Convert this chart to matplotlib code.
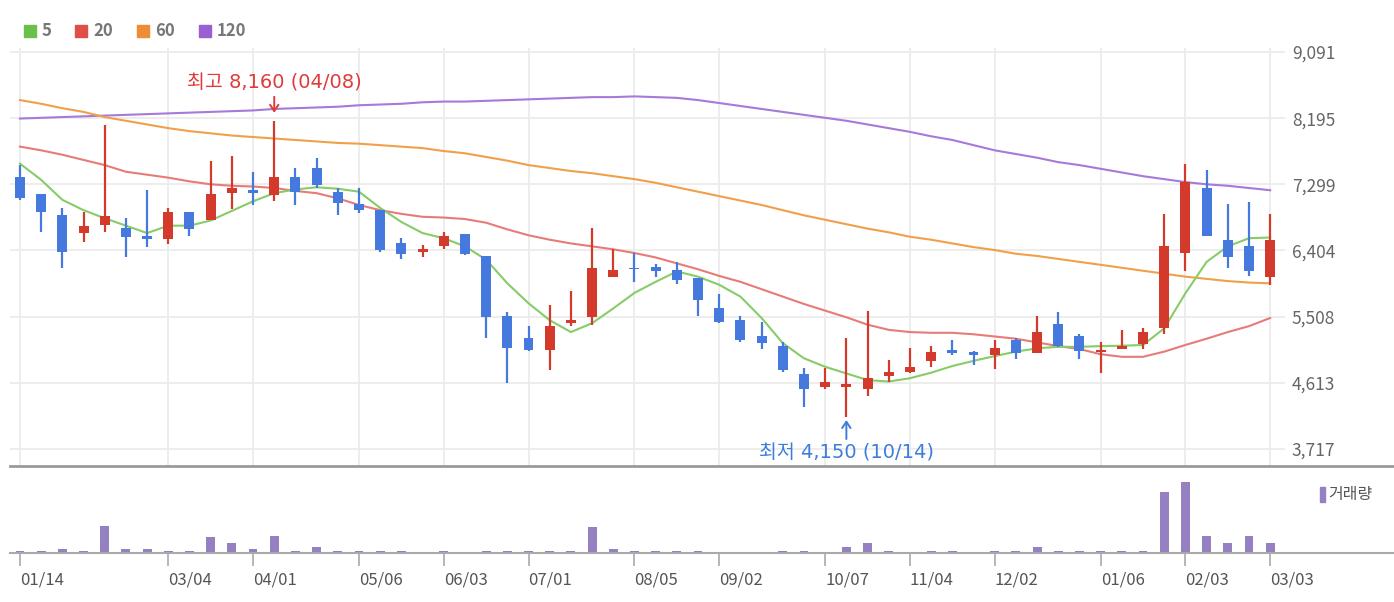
import matplotlib
matplotlib.use('Agg')
import matplotlib.pyplot as plt
from matplotlib.lines import Line2D
from matplotlib.transforms import offset_copy
import numpy as np

plt.rcParams['font.family'] = ['Noto Sans CJK KR', 'DejaVu Sans']

# weekly candles (60 weeks)
opens = [7400, 7170, 6890, 6640, 6750, 6710, 6600, 6560, 6930, 6820,
         7180, 7220, 7160, 7400, 7520, 7190, 7040, 6950, 6510, 6390,
         6470, 6630, 6330, 5520, 5220, 5060, 5420, 5500, 6040, 6170,
         6180, 6140, 6030, 5620, 5460, 5250, 5110, 4730, 4550, 4560,
         4525, 4705, 4765, 4910, 5060, 5030, 4990, 5190, 5015, 5410,
         5240, 5035, 5070, 5140, 5360, 6370, 7250, 6550, 6470, 6040]
highs = [7560, 7170, 6980, 6920, 8100, 6840, 7220, 6980, 6930, 7610,
         7680, 7470, 8160, 7520, 7650, 7250, 7250, 6950, 6570, 6480,
         6660, 6630, 6330, 5570, 5380, 5660, 5850, 6710, 6430, 6370,
         6220, 6250, 6030, 5810, 5520, 5430, 5160, 4820, 4820, 5220,
         5580, 4920, 5080, 5110, 5190, 5050, 5190, 5215, 5520, 5570,
         5270, 5160, 5330, 5350, 6900, 7580, 7490, 7030, 7060, 6900]
lows = [7090, 6660, 6170, 6520, 6660, 6310, 6450, 6490, 6600, 6820,
        6960, 7020, 7070, 7020, 7250, 6880, 6910, 6390, 6290, 6310,
        6420, 6340, 5220, 4610, 5040, 4790, 5380, 5390, 6040, 5980,
        6040, 5950, 5520, 5420, 5170, 5070, 4760, 4280, 4525, 4150,
        4440, 4630, 4740, 4830, 4990, 4855, 4795, 4930, 5015, 5100,
        4930, 4740, 5070, 5070, 5280, 6120, 6600, 6170, 6060, 5940]
closes = [7110, 6930, 6390, 6740, 6870, 6580, 6560, 6930, 6700, 7170,
          7250, 7180, 7400, 7190, 7290, 7050, 6950, 6410, 6360, 6420,
          6600, 6360, 5500, 5090, 5060, 5380, 5460, 6170, 6140, 6150,
          6120, 6000, 5740, 5440, 5190, 5150, 4790, 4525, 4620, 4595,
          4675, 4760, 4825, 5030, 5015, 4990, 5080, 5015, 5300, 5110,
          5040, 5060, 5110, 5300, 6470, 7330, 6600, 6310, 6120, 6550]
volumes = [20, 20, 35, 20, 250, 35, 35, 20, 20, 145,
           90, 35, 160, 20, 55, 20, 20, 20, 20, 1,
           20, 1, 20, 20, 20, 20, 20, 235, 35, 20,
           20, 20, 20, 1, 1, 1, 20, 20, 1, 55,
           90, 20, 1, 20, 20, 1, 20, 20, 55, 20,
           20, 20, 20, 20, 560, 650, 160, 90, 160, 90]

ma5 = [7580, 7360, 7090, 6950, 6840, 6740, 6640, 6740, 6740, 6810,
       6940, 7070, 7180, 7230, 7260, 7240, 7200, 6980, 6790, 6640,
       6570, 6460, 6280, 5960, 5690, 5460, 5300, 5420, 5620, 5830,
       5980, 6120, 6050, 5940, 5780, 5490, 5150, 4945, 4830, 4740,
       4650, 4630, 4675, 4750, 4840, 4910, 4975, 5035, 5080, 5100,
       5100, 5110, 5115, 5125, 5350, 5825, 6250, 6460, 6570, 6580]
ma20 = [7810, 7760, 7700, 7630, 7560, 7470, 7430, 7390, 7340, 7300,
        7280, 7270, 7250, 7210, 7180, 7110, 7020, 6950, 6900, 6860,
        6850, 6830, 6780, 6690, 6610, 6550, 6500, 6460, 6420, 6370,
        6310, 6230, 6150, 6060, 5980, 5880, 5780, 5680, 5590, 5500,
        5400, 5330, 5300, 5290, 5290, 5270, 5240, 5210, 5160, 5110,
        5070, 5000, 4965, 4965, 5035, 5125, 5210, 5300, 5380, 5490]
ma60 = [8440, 8390, 8330, 8280, 8210, 8160, 8110, 8060, 8020, 7990,
        7960, 7940, 7920, 7900, 7880, 7860, 7850, 7830, 7810, 7790,
        7750, 7720, 7670, 7620, 7560, 7520, 7480, 7450, 7410, 7370,
        7320, 7260, 7200, 7140, 7080, 7020, 6950, 6880, 6820, 6760,
        6700, 6650, 6590, 6550, 6500, 6450, 6410, 6360, 6330, 6290,
        6250, 6210, 6170, 6130, 6090, 6050, 6020, 5990, 5970, 5960]
ma120 = [8190, 8200, 8210, 8220, 8230, 8240, 8250, 8260, 8270, 8280,
         8290, 8300, 8320, 8330, 8340, 8350, 8370, 8380, 8390, 8410,
         8420, 8420, 8430, 8440, 8450, 8460, 8470, 8480, 8480, 8490,
         8480, 8470, 8440, 8400, 8360, 8320, 8280, 8240, 8200, 8160,
         8110, 8060, 8010, 7950, 7900, 7830, 7760, 7710, 7660, 7600,
         7560, 7510, 7460, 7410, 7370, 7330, 7300, 7280, 7250, 7220]

tick_idx = [0, 7, 11, 16, 20, 24, 29, 33, 38, 42, 46, 51, 55, 59]
tick_labels = ['01/14', '03/04', '04/01', '05/06', '06/03', '07/01', '08/05',
               '09/02', '10/07', '11/04', '12/02', '01/06', '02/03', '03/03']
price_ticks = [3717, 4613, 5508, 6404, 7299, 8195, 9091]
hi_date = '04/08'
lo_date = '10/14'

RED = '#d33a2c'
BLUE = '#4679dd'
W, H = 1394, 602

fig = plt.figure(figsize=(W / 100, H / 100), dpi=100)
ax = fig.add_axes([10 / W, (H - 466) / H, 1275 / W, 418 / H])
axv = fig.add_axes([10 / W, (H - 553) / H, 1275 / W, 83 / H])

x = np.arange(len(closes))
o = np.array(opens)
c = np.array(closes)
up = c >= o
cols = np.where(up, RED, BLUE)

# grid
for t in tick_idx:
    ax.axvline(t, color='#ececec', lw=1.3, zorder=0)
for p in price_ticks:
    ax.axhline(p, color='#ececec', lw=1.3, zorder=0)

# moving averages
ax.plot(x, ma120, color='#a57ad8', lw=1.5, zorder=2)
ax.plot(x, ma60, color='#f0a04b', lw=1.5, zorder=2)
ax.plot(x, ma20, color='#e77b78', lw=1.5, zorder=2)
ax.plot(x, ma5, color='#86cc68', lw=1.5, zorder=2)

# candles
ax.vlines(x, lows, highs, colors=cols, lw=1.6, zorder=3)
body = np.maximum(np.abs(c - o), 20)
ax.bar(x, body, bottom=np.minimum(o, c), width=0.47, color=cols, zorder=4)

ax.set_xlim(-0.47, 59.7)
ax.set_ylim(3487, 9145)
for s in ax.spines.values():
    s.set_visible(False)
ax.set_xticks([])
ax.yaxis.tick_right()
ax.set_yticks(price_ticks)
ax.set_yticklabels([f'{p:,}' for p in price_ticks])
ax.tick_params(axis='y', length=0, pad=5, labelsize=12.5, labelcolor='#666')

# high / low marks
i_hi = int(np.argmax(highs))
i_lo = int(np.argmin(lows))
hi, lo = highs[i_hi], lows[i_lo]


def shifted(dy):
    return offset_copy(ax.transData, fig=fig, x=0, y=dy, units='dots')


mark_font = ['DejaVu Sans', 'Noto Sans CJK KR']
ax.annotate('', xy=(i_hi, hi), xycoords=shifted(8), xytext=(i_hi, hi),
            textcoords=shifted(24),
            arrowprops=dict(arrowstyle='->,head_length=0.45,head_width=0.3',
                            color='#e03b3b', lw=1.4, shrinkA=0, shrinkB=0))
ax.text(i_hi, hi, f'최고 {hi:,} ({hi_date})', transform=shifted(38),
        ha='center', va='center', color='#e03b3b', fontsize=14,
        family=mark_font)
ax.annotate('', xy=(i_lo, lo), xycoords=shifted(-3), xytext=(i_lo, lo),
            textcoords=shifted(-22),
            arrowprops=dict(arrowstyle='->,head_length=0.45,head_width=0.3',
                            color='#3d7ddc', lw=1.4, shrinkA=0, shrinkB=0))
ax.text(i_lo, lo, f'최저 {lo:,} ({lo_date})', transform=shifted(-36),
        ha='center', va='center', color='#3d7ddc', fontsize=14,
        family=mark_font)

# volume
axv.bar(x, volumes, width=0.42, color='#9580c2')
axv.set_xlim(-0.47, 59.7)
axv.set_ylim(0, 760)
for s in axv.spines.values():
    s.set_visible(False)
axv.set_yticks([])
axv.set_xticks(tick_idx)
axv.set_xticklabels(tick_labels)
axv.tick_params(axis='x', length=9, width=1.2, color='#aaaaaa', pad=4,
                labelsize=12, labelcolor='#555')
for lbl in axv.get_xticklabels():
    lbl.set_ha('left')

# separators
fig.add_artist(Line2D([10 / W, 1], [(H - 466) / H] * 2, color='#9a9a9a', lw=2))
fig.add_artist(Line2D([10 / W, 1], [(H - 553) / H] * 2, color='#aaaaaa', lw=1.5))

# legend
legend = [('5', '#6cbf4a'), ('20', '#df4f47'), ('60', '#ee8d36'), ('120', '#9a5fd0')]
lx = [24, 75, 137, 199]
for (name, col), px in zip(legend, lx):
    fig.patches.append(plt.Rectangle((px / W, (H - 37) / H), 12 / W, 12 / H,
                                     transform=fig.transFigure, color=col))
    fig.text((px + 18) / W, (H - 31) / H, name, ha='left', va='center',
             fontsize=12, fontweight='bold', color='#777')

fig.patches.append(plt.Rectangle((1320 / W, (H - 502) / H), 5 / W, 15 / H,
                                 transform=fig.transFigure, color='#9580c2'))
fig.text(1328 / W, (H - 494) / H, '거래량', ha='left', va='center',
         fontsize=11.5, color='#555')

fig.savefig('out.png', dpi=100)
